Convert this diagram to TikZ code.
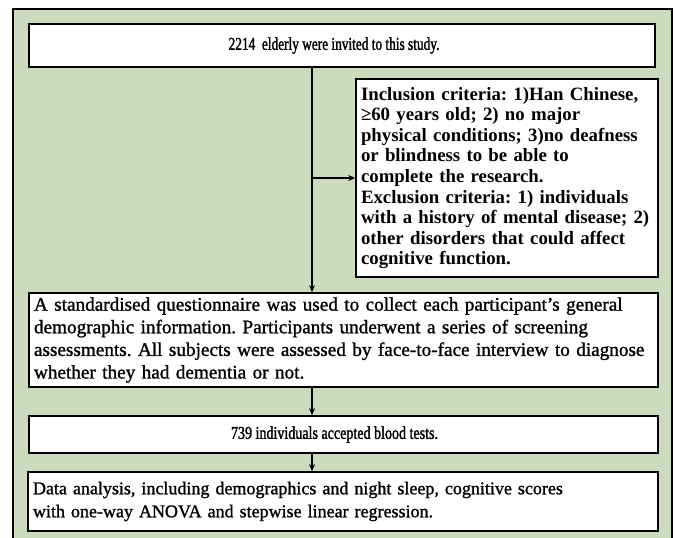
\documentclass[tikz,border=0pt]{standalone}
\usepackage{fontspec}
\setmainfont{Liberation Serif}
\newfontfamily\medfont[FakeBold=1.2]{Liberation Serif}
\newfontfamily\condfont[FakeBold=1.5,FakeStretch=0.74]{Liberation Serif}
\newfontfamily\condfontb[FakeBold=1.5,FakeStretch=0.78]{Liberation Serif}
\usetikzlibrary{arrows.meta}
\definecolor{panelgreen}{RGB}{204,219,189}
\tikzset{
  box/.style={draw=black, line width=1.6pt, fill=white, inner xsep=5pt, inner ysep=1pt, anchor=center},
  conn/.style={draw=black, line width=1.1pt, -{Stealth[length=7pt,width=6pt]}}
}
\frenchspacing
\begin{document}
\begin{tikzpicture}[x=1pt,y=-1pt]
\useasboundingbox (0,0) rectangle (675,538);
\clip (0,0) rectangle (675,538);
\draw[line width=1.5pt, fill=panelgreen] (13,9) rectangle (672,570);
\node[box, minimum width=626pt, minimum height=43pt, font=\condfont\fontsize{18}{20}\selectfont] (b1) at (342,45.5) {2214\ \ elderly were invited to this study.\hspace*{16pt}};
\node[box, text width=292pt, minimum height=198pt, align=left, font=\bfseries\fontsize{18.8}{20.6}\selectfont] (b2) at (507,178) {Inclusion criteria: 1)Han Chinese,\\ ≥60 years old; 2) no major\\ physical conditions; 3)no deafness\\ or blindness to be able to\\ complete the research.\\ Exclusion criteria: 1) individuals\\ with a history of mental disease; 2)\\ other disorders that could affect\\ cognitive function.};
\node[box, text width=619pt, minimum height=94pt, align=left, font=\medfont\fontsize{19.2}{22.6}\selectfont] (b3) at (343.5,340) {A standardised questionnaire was used to collect each participant’s general\\ demographic information. Participants underwent a series of screening\\ assessments. All subjects were assessed by face-to-face interview to diagnose\\ whether they had dementia or not.};
\node[box, minimum width=629pt, minimum height=37pt, font=\condfontb\fontsize{18}{20}\selectfont] (b4) at (343.5,434.5) {739 individuals accepted blood tests.\hspace*{18pt}};
\node[box, text width=620pt, minimum height=59pt, align=left, font=\medfont\fontsize{18}{23}\selectfont] (b5) at (343,501.5) {Data analysis, including demographics and night sleep, cognitive scores\\ with one-way ANOVA and stepwise linear regression.};
\coordinate (vx) at (312,0);
\draw[conn] (b1.south -| vx) -- (b3.north -| vx);
\draw[conn] (vx |- b2.west) -- (b2.west);
\draw[conn] (b3.south -| vx) -- (b4.north -| vx);
\draw[conn] (b4.south -| vx) -- (b5.north -| vx);
\end{tikzpicture}
\end{document}
